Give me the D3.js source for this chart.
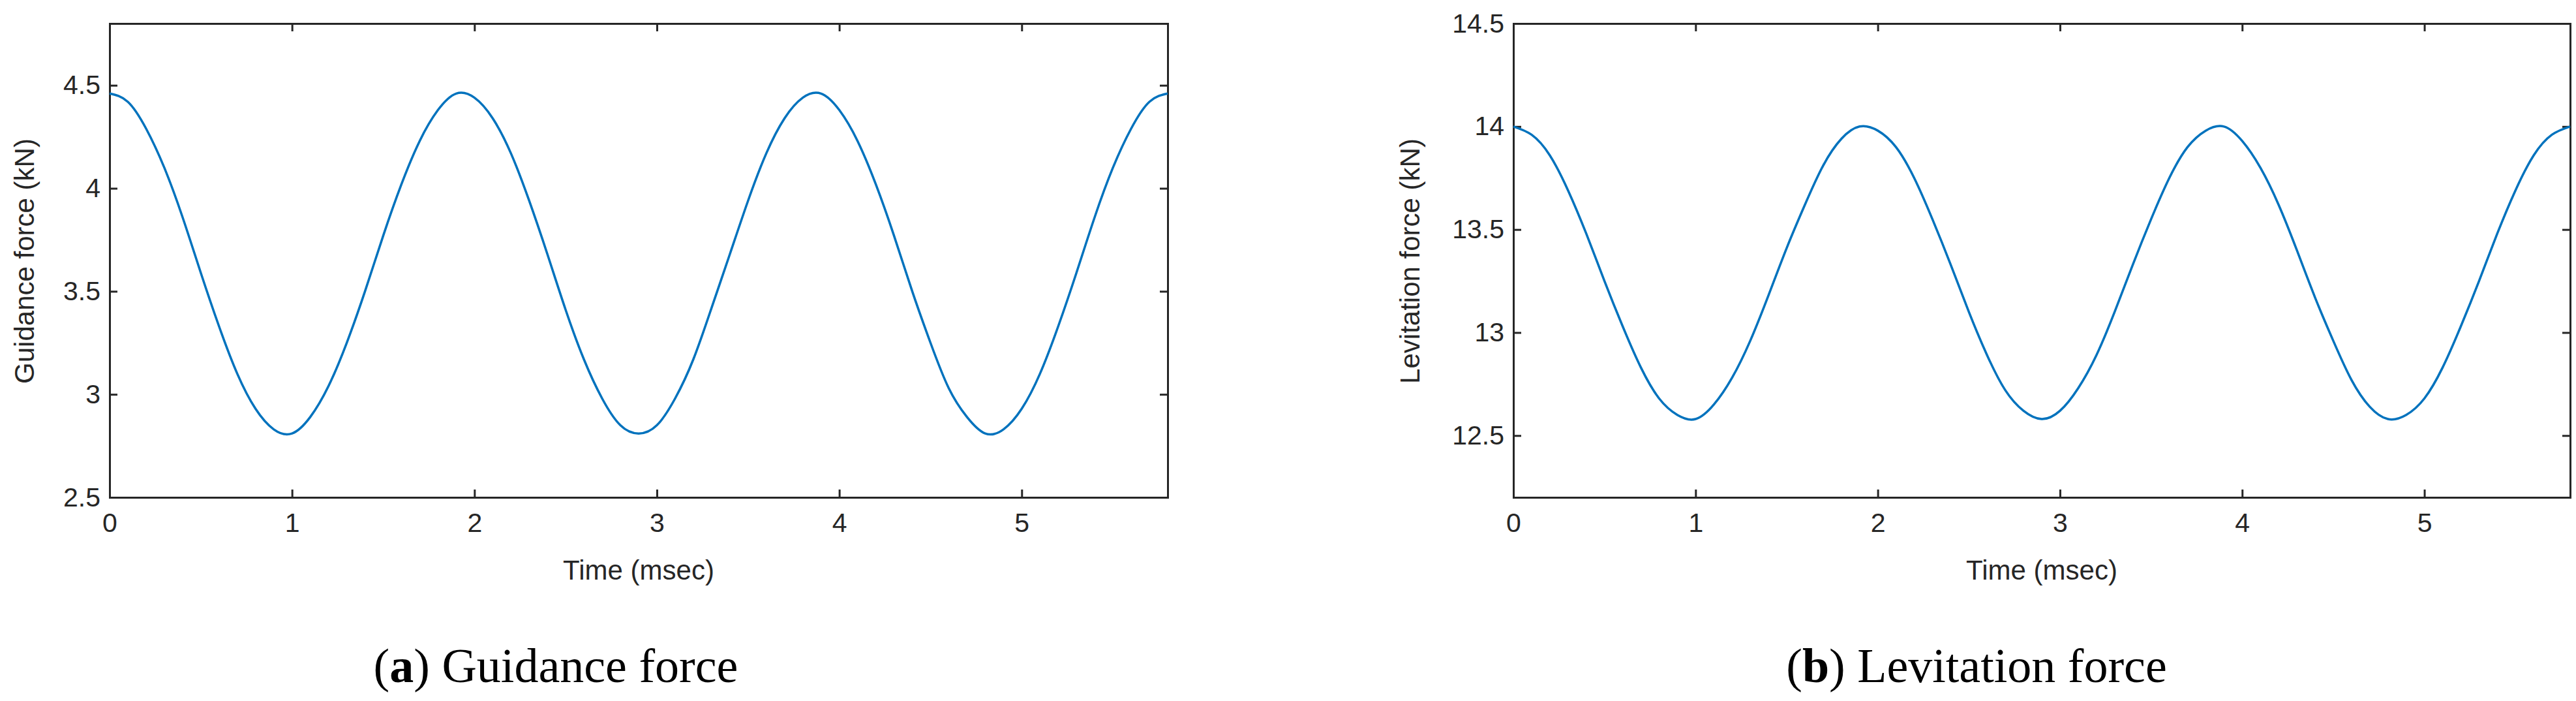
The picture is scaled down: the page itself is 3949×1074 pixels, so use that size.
<!DOCTYPE html>
<html><head><meta charset="utf-8">
<script src="https://cdn.jsdelivr.net/npm/d3@7"></script>
<style>body{margin:0;background:#fff}</style></head>
<body><svg id="c" width="3949" height="1074"></svg>
<script>
const time = [0,0.1,0.2,0.3,0.4,0.5,0.6,0.7,0.8,0.9,1.0,1.1,1.2,1.3,1.4,1.5,1.6,1.7,1.8,1.9,2.0,2.1,2.2,2.3,2.4,2.5,2.6,2.7,2.8,2.9,3.0,3.1,3.2,3.3,3.4,3.5,3.6,3.7,3.8,3.9,4.0,4.1,4.2,4.3,4.4,4.5,4.6,4.7,4.8,4.9,5.0,5.1,5.2,5.3,5.4,5.5,5.6,5.7,5.8];
const guidance = [4.46,4.42,4.29,4.10,3.86,3.59,3.33,3.10,2.93,2.83,2.81,2.89,3.04,3.25,3.50,3.77,4.02,4.23,4.38,4.46,4.44,4.34,4.17,3.94,3.68,3.41,3.17,2.98,2.85,2.81,2.85,2.98,3.17,3.42,3.68,3.94,4.17,4.34,4.44,4.46,4.38,4.23,4.02,3.77,3.50,3.25,3.03,2.89,2.81,2.83,2.93,3.10,3.33,3.59,3.86,4.10,4.29,4.42,4.46];
const levitation = [14.00,13.96,13.86,13.69,13.48,13.25,13.03,12.83,12.68,12.60,12.58,12.65,12.78,12.96,13.18,13.41,13.62,13.81,13.94,14.00,13.98,13.90,13.75,13.55,13.33,13.10,12.89,12.72,12.62,12.58,12.62,12.73,12.89,13.10,13.33,13.55,13.75,13.90,13.98,14.00,13.93,13.80,13.62,13.40,13.17,12.96,12.77,12.64,12.58,12.60,12.68,12.83,13.03,13.25,13.48,13.69,13.86,13.96,14.00];
const xTicks = [0,1,2,3,4,5];
const gTicks = [2.5,3,3.5,4,4.5];
const lTicks = [12.5,13,13.5,14,14.5];

const svg = d3.select('#c');
const SANS='Liberation Sans, Arial, sans-serif';
function panel(x0,x1,yd,ticks,vals,ylab,capB,capT,ylabX,capX){
  const top=36, bot=762;
  const x=d3.scaleLinear().domain([0,5.8]).range([x0,x1]);
  const y=d3.scaleLinear().domain(yd).range([bot,top]);
  const g=svg.append('g');
  const tl=12;
  const ax=g.append('g').attr('transform',`translate(0,${bot})`).call(d3.axisBottom(x).tickValues(xTicks).tickSize(-tl).tickPadding(24).tickFormat(d3.format('d')));
  const axT=g.append('g').attr('transform',`translate(0,${top})`).call(d3.axisTop(x).tickValues(xTicks).tickSize(-tl).tickFormat(''));
  const ay=g.append('g').attr('transform',`translate(${x0},0)`).call(d3.axisLeft(y).tickValues(ticks).tickSize(-tl).tickPadding(14).tickFormat(d=>String(d)));
  const ayR=g.append('g').attr('transform',`translate(${x1},0)`).call(d3.axisRight(y).tickValues(ticks).tickSize(-tl).tickFormat(''));
  [ax,axT,ay,ayR].forEach(a=>{a.selectAll('path').attr('stroke','#262626').attr('stroke-width',3);
    a.selectAll('line').attr('stroke','#262626').attr('stroke-width',3);
    a.selectAll('text').attr('font-size',41).attr('fill','#262626').attr('font-family',SANS);});
  ax.selectAll('text').attr('dy','0.7em');
  svg.append('path').datum(time.map((t,i)=>[t,vals[i]]))
    .attr('fill','none').attr('stroke','#0072BD').attr('stroke-width',3.5)
    .attr('d',d3.line().x(d=>x(d[0])).y(d=>y(d[1])).curve(d3.curveNatural));
  svg.append('text').attr('x',(x0+x1)/2).attr('y',888).attr('text-anchor','middle')
    .attr('font-family',SANS).attr('font-size',42).attr('fill','#262626').text('Time (msec)');
  svg.append('text').attr('transform',`translate(${ylabX},400) rotate(-90)`).attr('text-anchor','middle')
    .attr('font-family',SANS).attr('font-size',42).attr('fill','#262626').text(ylab);
  const c=svg.append('text').attr('x',capX).attr('y',1045).attr('text-anchor','middle')
    .attr('font-family','Liberation Serif, serif').attr('font-size',74).attr('fill','#000');
  c.append('tspan').text('(');
  c.append('tspan').attr('font-weight','bold').text(capB);
  c.append('tspan').text(') '+capT);
}
panel(168,1790,[2.5,4.8],gTicks,guidance,'Guidance force (kN)','a','Guidance force',52,852);
panel(2320,3940,[12.2,14.5],lTicks,levitation,'Levitation force (kN)','b','Levitation force',2176,3030);
</script></body></html>
